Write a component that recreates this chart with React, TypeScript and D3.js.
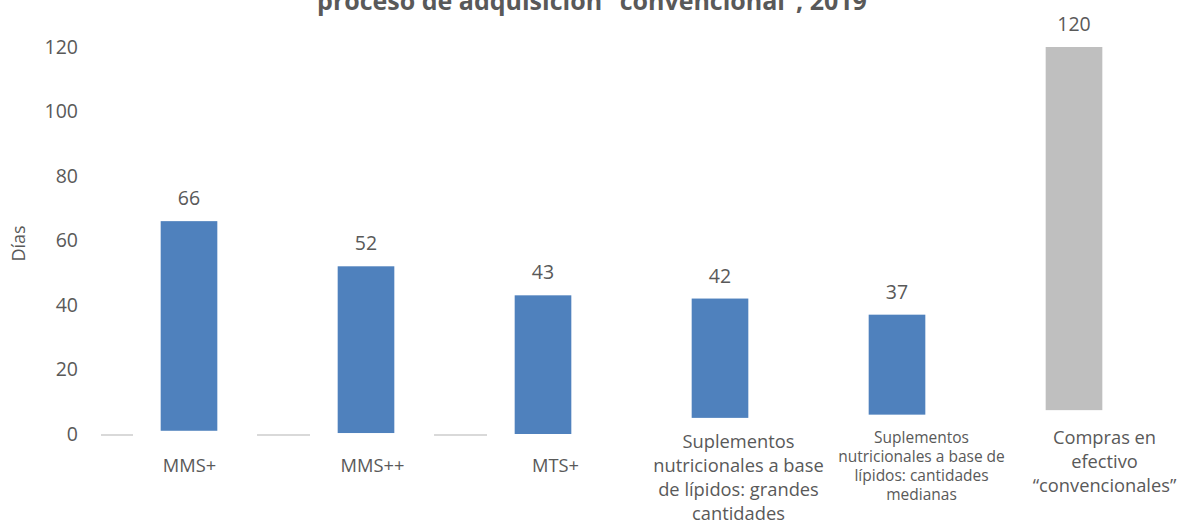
import React, { useEffect, useRef } from 'react';
import * as d3 from 'd3';

// chart data
const categories = ['MMS+', 'MMS++', 'MTS+', 'LNS-LQ', 'LNS-MQ', 'Compras'];
const categoryLabels: string[][] = [
  ['MMS+'],
  ['MMS++'],
  ['MTS+'],
  ['Suplementos', 'nutricionales a base', 'de lípidos: grandes', 'cantidades'],
  ['Suplementos', 'nutricionales a base de', 'lípidos: cantidades', 'medianas'],
  ['Compras en', 'efectivo', '“convencionales”'],
];
const days = [66, 52, 43, 42, 37, 120];
// where each bar starts (days)
const barStart = [1, 0.3, 0, 5, 6, 7.4];
const yTicks = [0, 20, 40, 60, 80, 100, 120];
const titleText = 'proceso de adquisición “convencional”, 2019';
const yTitle = 'Días';

const W = 1181;
const H = 524;
const FONT = '"Open Sans", "Noto Sans", sans-serif';
const TEXT = '#595959';
const BLUE = '#4F81BD';
const GRAY = '#BFBFBF';

const App: React.FC = () => {
  const svgRef = useRef<SVGSVGElement>(null);

  useEffect(() => {
    document.body.style.margin = '0';
    if (!svgRef.current) return;
    const svg = d3.select(svgRef.current);
    svg.selectAll('*').remove();

    const axisLeft = 101;
    const y = d3.scaleLinear().domain([0, 120]).range([434, 47]);
    const x = d3.scaleBand<string>()
      .domain(categories)
      .range([100.5, 1162.5])
      .paddingInner(0.68)
      .paddingOuter(0.34);
    const labelX = d3.scaleBand<string>()
      .domain(categories)
      .range([98, 1196]);

    // title (first line is cut off by the top edge)
    svg.append('text')
      .attr('x', 592)
      .attr('y', 10)
      .attr('text-anchor', 'middle')
      .attr('font-family', FONT)
      .attr('font-weight', 700)
      .attr('font-size', 25)
      .attr('fill', TEXT)
      .text(titleText);

    // y axis tick labels
    svg.append('g')
      .selectAll('text')
      .data(yTicks)
      .join('text')
      .attr('x', 78)
      .attr('y', d => y(d))
      .attr('dy', '0.35em')
      .attr('text-anchor', 'end')
      .attr('font-family', FONT)
      .attr('font-size', 19.5)
      .attr('fill', TEXT)
      .text(d => d);

    svg.append('text')
      .attr('transform', `translate(25,${y(60) + 3}) rotate(-90)`)
      .attr('text-anchor', 'middle')
      .attr('font-family', FONT)
      .attr('font-size', 18)
      .attr('fill', TEXT)
      .text(yTitle);

    // baseline pieces in the gaps left of the first three bars
    const gap = x.step() - x.bandwidth();
    svg.append('g')
      .selectAll('line')
      .data(categories.slice(0, 3))
      .join('line')
      .attr('x1', d => Math.max(axisLeft, (x(d) as number) - gap * 0.45 - gap * 0.22))
      .attr('x2', d => (x(d) as number) - gap * 0.45 + gap * 0.22)
      .attr('y1', y(0) + 1)
      .attr('y2', y(0) + 1)
      .attr('stroke', '#D9D9D9')
      .attr('stroke-width', 2);

    // bars
    svg.append('g')
      .selectAll('rect')
      .data(categories)
      .join('rect')
      .attr('x', d => x(d) as number)
      .attr('width', x.bandwidth())
      .attr('y', (_, i) => y(days[i]))
      .attr('height', (_, i) => y(barStart[i]) - y(days[i]))
      .attr('fill', (_, i) => (i === categories.length - 1 ? GRAY : BLUE));

    // value labels
    svg.append('g')
      .selectAll('text')
      .data(categories)
      .join('text')
      .attr('x', d => (x(d) as number) + x.bandwidth() / 2)
      .attr('y', (_, i) => y(days[i]) - 16)
      .attr('text-anchor', 'middle')
      .attr('font-family', FONT)
      .attr('font-size', 19.5)
      .attr('fill', TEXT)
      .text((_, i) => days[i]);

    // category labels
    const cats = svg.append('g')
      .selectAll('text')
      .data(categories)
      .join('text')
      .attr('text-anchor', 'middle')
      .attr('font-family', FONT)
      .attr('font-size', (_, i) => (i === 4 ? 15.5 : 18.3))
      .attr('fill', TEXT);

    cats.each(function (d, i) {
      const lines = categoryLabels[i];
      const lineH = i === 4 ? 19 : 24;
      const top = lines.length === 1 ? 472 : i === 4 ? 443 : 448 - (i === 5 ? 4 : 0);
      d3.select(this)
        .selectAll('tspan')
        .data(lines)
        .join('tspan')
        .attr('x', (labelX(d) as number) + labelX.bandwidth() / 2)
        .attr('y', (_, j) => top + j * lineH)
        .text(t => t);
    });
  }, []);

  return (
    <div style={{ width: W, height: H }}>
      <svg ref={svgRef} width={W} height={H} style={{ display: 'block', background: '#fff' }} />
    </div>
  );
};

export default App;
